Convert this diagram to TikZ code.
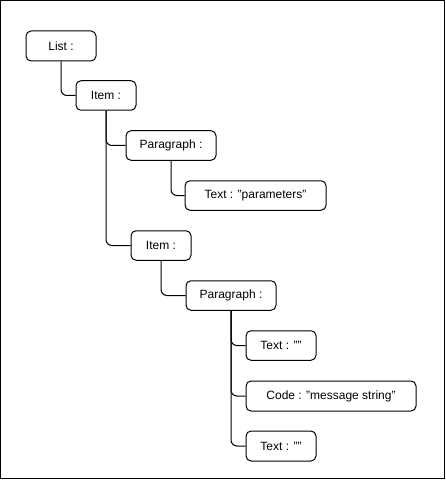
\documentclass[tikz,border=0pt]{standalone}
\usepackage{fontspec}
\setmainfont{Liberation Sans}
\begin{document}
\begin{tikzpicture}[x=1pt,y=-1pt,
  treebox/.style={draw, line width=1pt, rounded corners=5pt, minimum height=29.5pt, inner sep=0pt, font=\fontsize{12pt}{14pt}\selectfont},
  conn/.style={draw, line width=1pt, rounded corners=6pt}]
\useasboundingbox (0,0) rectangle (446,481);
\draw[line width=1pt] (0.5,0.5) rectangle (444.5,478.5);
\node[treebox, minimum width=70pt, minimum height=30pt] (list) at (61,46) {List :};
\node[treebox, minimum width=60pt] (item1) at (106,95.5) {Item :};
\node[treebox, minimum width=90pt] (para1) at (171,145.5) {Paragraph :};
\node[treebox, minimum width=141pt] (text1) at (255.5,195.5) {Text : "parameters"};
\node[treebox, minimum width=60pt] (item2) at (161,245.5) {Item :};
\node[treebox, minimum width=90pt] (para2) at (231,295.5) {Paragraph :};
\node[treebox, minimum width=70pt] (text2) at (281,345.5) {Text : ""};
\node[treebox, minimum width=170pt, minimum height=30pt] (code) at (331,396) {Code : "message string"};
\node[treebox, minimum width=70pt, minimum height=30pt] (text3) at (281,446) {Text : ""};
\draw[conn] (list.south) |- (item1.west);
\draw[conn] (item1.south) |- (para1.west);
\draw[conn] (item1.south) |- (item2.west);
\draw[conn] (para1.south) |- (text1.west);
\draw[conn] (item2.south) |- (para2.west);
\draw[conn] (para2.south) |- (text2.west);
\draw[conn] (para2.south) |- (code.west);
\draw[conn] (para2.south) |- (text3.west);
\end{tikzpicture}
\end{document}
